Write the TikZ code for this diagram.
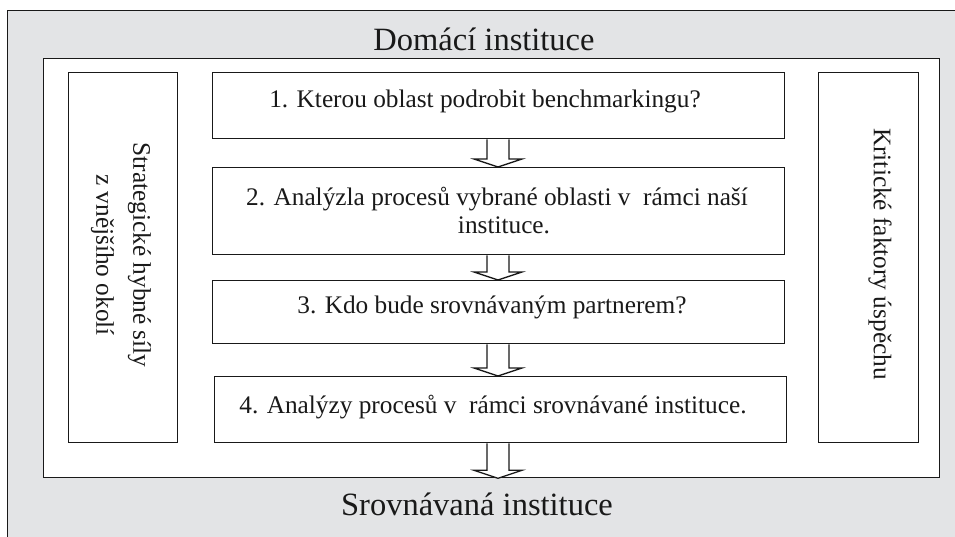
\documentclass[tikz,border=0pt]{standalone}
\usepackage{fontspec}
\setmainfont{Liberation Serif}
\usetikzlibrary{calc}
\definecolor{bggray}{RGB}{227,228,230}
\definecolor{ink}{RGB}{25,25,25}
\tikzset{
  boxline/.style={draw=ink, line width=1.3pt},
  stepbox/.style={boxline, fill=white, rectangle, inner sep=0pt, anchor=north west},
  steptext/.style={font=\fontsize{25.3}{28}\selectfont, text=ink, inner sep=0pt, align=center},
  sidetext/.style={font=\fontsize{25.3}{37}\selectfont, text=ink, inner sep=0pt, align=center, rotate=-90},
  titletext/.style={font=\fontsize{32.5}{36}\selectfont, text=ink, inner sep=0pt, anchor=base},
  arrowshape/.style={boxline, fill=white, line join=miter},
}
\newcommand{\hollowarrow}[2]{%
  \path (#1) coordinate (s) (#2) coordinate (e);
  \draw[arrowshape] ($(s)+(-11,0)$) -- ($(e)+(-11,-8)$) -- ($(e)+(-24,-8)$) -- (e)
    -- ($(e)+(24,-8)$) -- ($(e)+(11,-8)$) -- ($(s)+(11,0)$);
}
\begin{document}
\begin{tikzpicture}[x=1pt,y=-1pt]
  \useasboundingbox (0,0) rectangle (955,536);
  \node[stepbox, fill=bggray, line width=1pt, minimum width=960pt, minimum height=540pt] (outer) at (7,10) {};
  \node[stepbox, minimum width=896pt, minimum height=419pt] (inner) at (43,58) {};
  \node[titletext] (dom) at (484,50) {Domácí instituce};
  \node[titletext] (srov) at (477,515) {Srovnávaná instituce};
  \node[stepbox, minimum width=109pt, minimum height=370pt] (left) at (68,72) {};
  \node[stepbox, minimum width=100pt, minimum height=370pt] (right) at (818,72) {};
  \node[sidetext] (lefttext) at (121,255) {Strategické hybné síly\\z vnějšího okolí};
  \node[sidetext] (righttext) at (880,254) {Kritické faktory úspěchu};
  \node[stepbox, minimum width=572pt, minimum height=66pt] (b1) at (212,72) {};
  \node[stepbox, minimum width=572pt, minimum height=87pt] (b2) at (212,167) {};
  \node[stepbox, minimum width=572pt, minimum height=63pt] (b3) at (212,280) {};
  \node[stepbox, minimum width=572pt, minimum height=66pt] (b4) at (214,376) {};
  \node[steptext, anchor=base] (t1) at (485,107) {1. Kterou oblast podrobit benchmarkingu?};
  \node[steptext, anchor=base] (t2a) at (497,205) {2. Analýzla procesů vybrané oblasti v\ \ rámci naší};
  \node[steptext, anchor=base] (t2b) at (504,233) {instituce.};
  \node[steptext, anchor=base] (t3) at (492,313) {3. Kdo bude srovnávaným partnerem?};
  \node[steptext, anchor=base] (t4) at (493,413) {4. Analýzy procesů v\ \ rámci srovnávané instituce.};
  \coordinate (b1s) at (b1.south -| 498,0);
  \coordinate (b2n) at (b2.north -| 498,0);
  \coordinate (b2s) at (b2.south -| 498,0);
  \coordinate (b3n) at (b3.north -| 498,0);
  \coordinate (b3s) at (b3.south -| 498,0);
  \coordinate (b4n) at (b4.north -| 498,0);
  \coordinate (b4s) at (b4.south -| 498,0);
  \coordinate (innS) at (inner.south -| 498,0);
  \hollowarrow{b1s}{b2n}
  \hollowarrow{b2s}{b3n}
  \hollowarrow{b3s}{b4n}
  \hollowarrow{b4s}{innS}
\end{tikzpicture}
\end{document}
